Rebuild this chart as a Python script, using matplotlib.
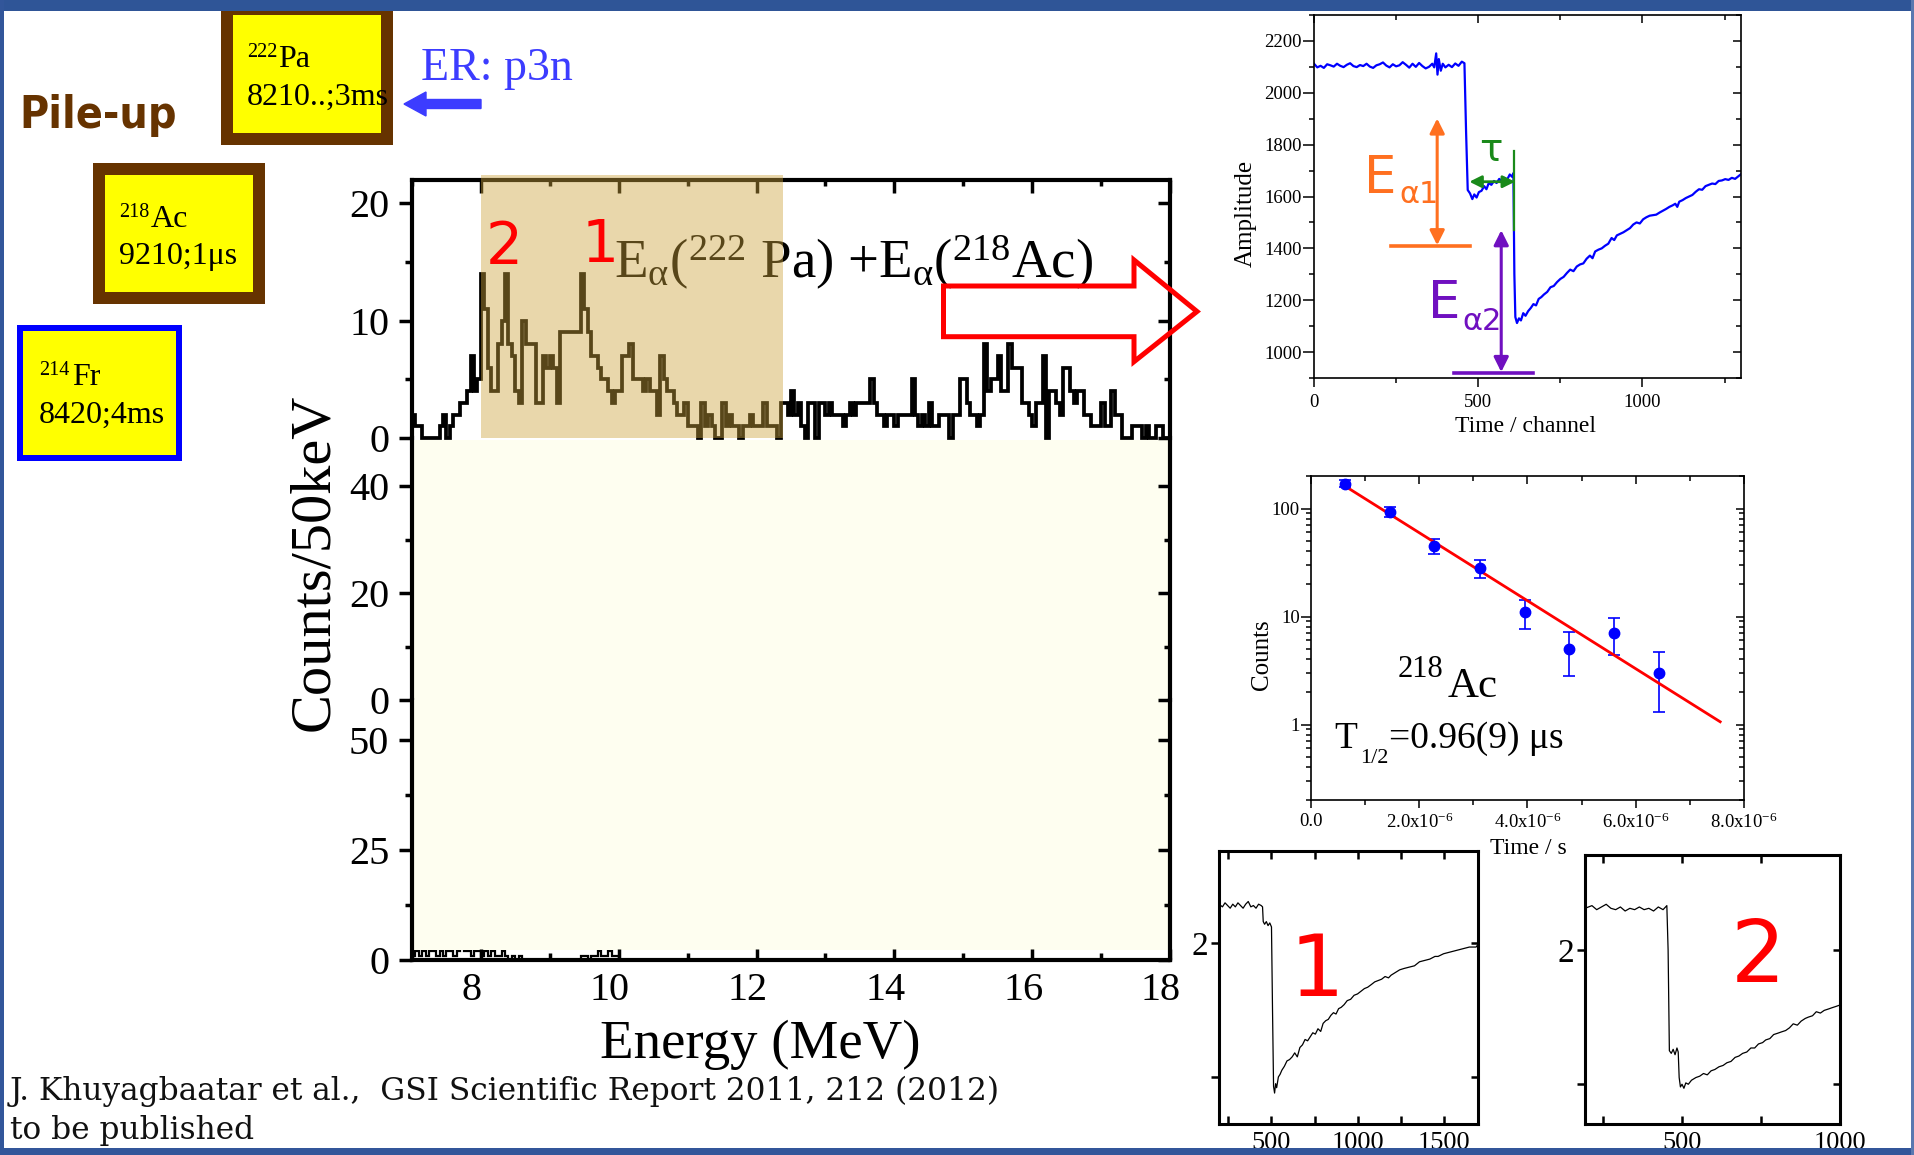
import numpy as np
import matplotlib
matplotlib.use("Agg")
import matplotlib.pyplot as plt
from matplotlib.patches import Rectangle, Polygon, FancyArrow
from matplotlib.transforms import Affine2D, blended_transform_factory, ScaledTranslation
from matplotlib.ticker import (MultipleLocator, FixedLocator, NullFormatter,
                               FuncFormatter, LogLocator, NullLocator)

plt.rcParams['font.family'] = ['Liberation Serif', 'DejaVu Sans']
plt.rcParams['mathtext.fontset'] = 'custom'
plt.rcParams['mathtext.rm'] = 'Liberation Serif'
plt.rcParams['mathtext.it'] = 'Liberation Serif:italic'
plt.rcParams['mathtext.bf'] = 'Liberation Serif:bold'

# ---------------------------------------------------------------- data
energy_start = 7.0          # MeV, first bin edge
bin_width = 0.05            # MeV (50 keV)
counts_top = [2, 1, 1, 0, 0, 0, 0, 0, 1, 2, 0, 1, 2, 2, 3, 3, 4, 7, 4, 5,
              14, 11, 6, 4, 4, 8, 10, 14, 8, 7,
              4, 3, 10, 8, 8, 8, 3, 3, 7, 6,
              7, 6, 3, 9, 9, 9, 9, 9, 9, 14,
              11, 9, 7, 7, 6,
              5, 5, 4, 3, 4, 4, 7, 7, 8, 5,
              5, 5, 4, 5, 4, 4, 2, 7, 5, 4,
              4, 3, 2, 2, 3, 1, 1, 1, 0, 3,
              1, 2, 1, 0, 0, 3, 1, 2, 1, 1,
              0, 1, 1, 2, 1, 1, 1, 3, 1, 1,
              1, 0, 3,
              3, 2, 4, 2, 3, 1, 0, 3, 3, 0,
              3, 3, 2, 3, 2, 2, 2, 1, 2, 3,
              2, 3, 3, 3, 3, 5, 3, 2, 2, 1,
              2, 2, 1, 2, 2, 2, 2, 5, 2, 1,
              2, 1, 3, 1, 1, 2, 2, 2, 0, 2,
              2, 5, 5, 3,
              2, 2, 1, 2, 8, 4, 5, 5, 7, 4,
              4, 8, 6, 6, 6, 3, 3, 2, 1, 3,
              3, 7, 0, 4, 4, 3, 2, 6, 6, 4,
              3, 4, 4, 2, 2, 1, 1, 1, 3, 1,
              1, 4, 2, 2, 0, 0, 0, 1, 1, 1,
              0, 1, 0, 0, 1, 1, 0, 0]
counts_low = [1, 2, 1, 2, 1, 2, 2, 1, 2, 1, 2, 2, 1, 2, 3, 2, 2, 1, 2, 2,
              1, 2, 1, 2, 1, 1, 2, 1, 0, 1, 0, 1, 0, 0, 0, 0, 0, 0, 0, 0,
              0, 0, 0, 0, 0, 0, 0, 0, 0, 1, 1, 0, 1, 1, 2, 1, 1, 2, 1, 1,
              0, 0, 0, 0]
top_ticks_y = [0, 10, 20]
mid_ticks_y = [0, 20, 40]
low_ticks_y = [0, 25, 50]
energy_ticks = [8, 10, 12, 14, 16, 18]
shade_range = (8.0, 12.38)

amp_channel = [0, 10, 20, 30, 40, 50, 60, 70, 80, 90, 100, 110, 120, 130, 140, 150,
               160, 170, 180, 190, 200, 210, 220, 230, 240, 250, 260, 270, 280, 290,
               300, 310, 320, 330, 340, 350, 360, 366, 372, 376, 380, 386, 392, 400,
               410, 420, 430, 440, 450, 458,
               463, 468, 475, 482, 488, 495, 502, 510, 518, 525, 532, 540, 548, 556,
               564, 572, 580, 588, 596, 603, 607,
               610, 613, 618, 624, 630, 637, 644, 652, 660, 668, 676, 684, 692, 700,
               710, 720, 730, 740, 750, 760, 770, 780, 790, 800, 810, 820, 830, 840,
               848, 856, 866, 876, 886, 896, 906, 914, 922, 932, 942, 952, 962, 972,
               982, 992, 1002, 1012, 1022, 1032, 1042, 1052, 1062, 1072, 1082, 1092,
               1100, 1106, 1112, 1122, 1132, 1142, 1152, 1162, 1172, 1182, 1192, 1202,
               1212, 1222, 1232, 1242, 1252, 1262, 1272, 1282, 1292, 1300]
amp_value = [2112, 2098, 2104, 2096, 2110, 2106, 2101, 2112, 2104, 2099, 2108, 2114,
             2103, 2099, 2107, 2103, 2112, 2101, 2096, 2106, 2110, 2117, 2105, 2098,
             2110, 2102, 2106, 2118, 2108, 2097, 2112, 2100, 2115, 2103, 2094, 2100,
             2112, 2098, 2152, 2070, 2130, 2085, 2112, 2098, 2108, 2099, 2113, 2104,
             2120, 2114,
             1850, 1625, 1612, 1590, 1608, 1596, 1617, 1622, 1640, 1628, 1652, 1645,
             1660, 1652, 1668, 1659, 1672, 1665, 1685, 1676, 1690,
             1300, 1135, 1112, 1130, 1122, 1150, 1140, 1158, 1170, 1185, 1180, 1205,
             1212, 1222, 1232, 1250, 1255, 1270, 1282, 1290, 1305, 1318, 1312, 1330,
             1338, 1342, 1360, 1372, 1362, 1388, 1395, 1400, 1410, 1418, 1440, 1432,
             1450, 1456, 1462, 1470, 1478, 1492, 1500, 1496, 1512, 1520, 1526, 1528,
             1530, 1538, 1545, 1552, 1560, 1566, 1572, 1560, 1580, 1586, 1594, 1600,
             1606, 1618, 1628, 1626, 1640, 1645, 1650, 1648, 1660, 1662, 1667, 1664,
             1672, 1668, 1678, 1686]

decay_time = [0.63e-6, 1.46e-6, 2.27e-6, 3.12e-6, 3.95e-6, 4.77e-6, 5.60e-6, 6.43e-6]
decay_counts = [170, 93, 45, 28, 11, 5, 7, 3]
decay_err = [13, 9.6, 6.7, 5.3, 3.3, 2.2, 2.6, 1.7]
fit_time = [0.58e-6, 7.56e-6]
fit_counts = [167, 1.06]

t1_channel = [195, 215, 230, 245, 260, 275, 290, 305, 320, 335, 350, 365, 380, 395, 410,
              425, 440, 448, 452, 460, 470, 480, 490, 500, 506, 512, 518, 524, 530, 540,
              550, 560, 575, 590, 605, 620, 635, 650, 665, 680, 695, 710, 725, 740, 755,
              770, 786, 800, 815, 830, 845, 860, 875, 890, 905, 922, 940, 960, 980, 1000,
              1020, 1040, 1059, 1080, 1100, 1120, 1140, 1160, 1180, 1195, 1220, 1245,
              1270, 1300, 1331, 1360, 1390, 1420, 1450, 1468, 1500, 1530, 1560, 1590,
              1620, 1650, 1689, 1700]
t1_value = [2.29, 2.27, 2.30, 2.28, 2.26, 2.29, 2.27, 2.30, 2.28, 2.26, 2.29, 2.31, 2.27,
            2.28, 2.26, 2.29, 2.28, 2.27, 2.16, 2.14, 2.16, 2.13, 2.15, 2.12, 1.50, 0.93,
            0.88, 0.95, 0.92, 1.00, 1.02, 1.05, 1.08, 1.12, 1.13, 1.15, 1.18, 1.15, 1.22,
            1.24, 1.28, 1.27, 1.30, 1.33, 1.32, 1.36, 1.34, 1.40, 1.42, 1.43, 1.46, 1.48,
            1.47, 1.51, 1.52, 1.54, 1.57, 1.58, 1.61, 1.62, 1.64, 1.66, 1.67, 1.69, 1.71,
            1.72, 1.73, 1.75, 1.74, 1.76, 1.78, 1.80, 1.81, 1.82, 1.83, 1.86, 1.87, 1.88,
            1.90, 1.90, 1.92, 1.93, 1.94, 1.95, 1.96, 1.97, 1.97, 1.99]
t2_channel = [193, 215, 230, 245, 260, 275, 290, 305, 320, 335, 350, 365, 380, 395, 410,
              425, 440, 452, 456, 460, 466, 472, 478, 484, 488, 491, 495, 500, 506, 512,
              520, 530, 544, 556, 568, 580, 592, 604, 617, 630, 642, 655, 668, 680, 692,
              705, 718, 730, 742, 755, 765, 778, 790, 803, 815, 828, 840, 852, 865, 877,
              890, 900, 913, 925, 938, 950, 963, 975, 988, 1000]
t2_value = [2.31, 2.33, 2.30, 2.32, 2.34, 2.31, 2.30, 2.32, 2.29, 2.31, 2.30, 2.32, 2.30,
            2.31, 2.29, 2.32, 2.30, 2.33, 2.00, 1.25, 1.23, 1.26, 1.22, 1.27, 1.24, 1.05,
            0.98, 1.00, 0.97, 1.01, 1.00, 1.03, 1.05, 1.06, 1.08, 1.07, 1.10, 1.11, 1.13,
            1.14, 1.16, 1.17, 1.20, 1.21, 1.23, 1.24, 1.27, 1.27, 1.30, 1.31, 1.33, 1.34,
            1.37, 1.38, 1.39, 1.40, 1.42, 1.45, 1.44, 1.47, 1.49, 1.50, 1.51, 1.54, 1.53,
            1.55, 1.56, 1.57, 1.58, 1.59]

# ---------------------------------------------------------------- figure
W, H = 1915, 1155
fig = plt.figure(figsize=(W / 100, H / 100), dpi=100)
fig.patch.set_facecolor('white')
pix = Affine2D().scale(1.0 / W, -1.0 / H).translate(0, 1) + fig.transFigure


def add_ax(x0, y0, x1, y1):
    return fig.add_axes([x0 / W, 1 - y1 / H, (x1 - x0) / W, (y1 - y0) / H])


def ptext(x, y, s, **kw):
    return fig.text(x, y, s, transform=pix, **kw)


def tstyle(ax, axis, direction, ml, nl, w, **kw):
    ax.tick_params(axis=axis, which='major', direction=direction, length=ml, width=w, **kw)
    ax.tick_params(axis=axis, which='minor', direction=direction, length=nl, width=w)


def twin_right(ax, major, minor, ml, nl, w, scale='linear'):
    t = ax.twinx()
    t.set_yscale(scale)
    t.set_ylim(ax.get_ylim())
    t.yaxis.set_major_locator(major)
    t.yaxis.set_minor_locator(minor)
    t.yaxis.set_major_formatter(NullFormatter())
    t.yaxis.set_minor_formatter(NullFormatter())
    tstyle(t, 'y', 'in', ml, nl, w)
    for s in t.spines.values():
        s.set_visible(False)
    return t


def twin_top(ax, major, minor, ml, nl, w):
    t = ax.twiny()
    t.set_xlim(ax.get_xlim())
    t.xaxis.set_major_locator(major)
    t.xaxis.set_minor_locator(minor)
    t.xaxis.set_major_formatter(NullFormatter())
    t.xaxis.set_minor_formatter(NullFormatter())
    tstyle(t, 'x', 'in', ml, nl, w)
    for s in t.spines.values():
        s.set_visible(False)
    return t


# ---------------------------------------------------------------- main histogram
edges = energy_start + bin_width * np.arange(len(counts_top) + 1)
edges_low = energy_start + bin_width * np.arange(len(counts_low) + 1)
XL, XR = 412, 1170
SW = 3.0
cream = '#fefef0'

ax1 = add_ax(XL, 180, XR, 438)
ax2 = add_ax(XL, 438, XR, 700)
ax3 = add_ax(XL, 700, XR, 960)
for a, yl in [(ax1, 22), (ax2, 49), (ax3, 59)]:
    a.set_xlim(7, 18)
    a.set_ylim(0, yl)
    a.patch.set_visible(False)
    for s in a.spines.values():
        s.set_linewidth(SW)
    a.set_axisbelow(False)

ax1.stairs(counts_top, edges, color='black', lw=2.7, clip_on=False, zorder=2)
ax3.stairs(counts_low, edges_low, color='black', lw=1.6, clip_on=False, zorder=2)

ax2.add_patch(Rectangle((0, 0), 1, 0.992, transform=ax2.transAxes, facecolor=cream,
                        edgecolor='none', zorder=2.2))
ax3.add_patch(Rectangle((0, 0.04), 1, 0.96, transform=ax3.transAxes, facecolor=cream,
                        edgecolor='none', zorder=2.2))

ax1.spines['bottom'].set_visible(False)
ax2.spines['top'].set_visible(False)
ax2.spines['bottom'].set_visible(False)
ax3.spines['top'].set_visible(False)

ax1.yaxis.set_major_locator(FixedLocator(top_ticks_y))
ax1.yaxis.set_minor_locator(FixedLocator([5, 15]))
ax2.yaxis.set_major_locator(FixedLocator(mid_ticks_y))
ax2.yaxis.set_minor_locator(FixedLocator([10, 30]))
ax3.yaxis.set_major_locator(FixedLocator(low_ticks_y))
ax3.yaxis.set_minor_locator(FixedLocator([12.5, 37.5]))
for a, mj, mn in [(ax1, top_ticks_y, [5, 15]), (ax2, mid_ticks_y, [10, 30]),
                  (ax3, low_ticks_y, [12.5, 37.5])]:
    twin_right(a, FixedLocator(mj), FixedLocator(mn), 9, 4.5, 2.5)
    tstyle(a, 'y', 'out', 9.4, 4.7, 2.5, labelsize=29, pad=7)

ax1.xaxis.tick_top()
ax1.xaxis.set_major_locator(FixedLocator(energy_ticks))
ax1.xaxis.set_minor_locator(MultipleLocator(1))
tstyle(ax1, 'x', 'in', 9.5, 4, 2.5, labeltop=False)
ax2.xaxis.set_major_locator(NullLocator())
ax2.xaxis.set_minor_locator(NullLocator())
ax3.xaxis.set_major_locator(FixedLocator(energy_ticks))
ax3.xaxis.set_minor_locator(MultipleLocator(1))
tstyle(ax3, 'x', 'in', 8, 5, 2.5, labelsize=29, pad=9)
shift_left = ScaledTranslation(-9 / 100, 0, fig.dpi_scale_trans)
for lab in ax3.get_xticklabels():
    lab.set_transform(lab.get_transform() + shift_left)

ptext(314, 562, 'Counts/50keV', rotation=90, ha='center', va='center', size=42)
ptext(760, 1045, 'Energy (MeV)', ha='center', va='center', size=39.5)

ax1.text(614, 278, r'E$_{\mathrm{\alpha}}$($^{222}$ Pa) +E$_{\mathrm{\alpha}}$($^{218}$Ac)',
         transform=pix, size=39.5, ha='left', va='baseline', zorder=3)

# tan shading overlay (figure level, above the axes)
shade = Rectangle((shade_range[0], 0), shade_range[1] - shade_range[0], 1 + 5 / 258,
                  transform=blended_transform_factory(ax1.transData, ax1.transAxes),
                  facecolor='#cda33c', alpha=0.43, edgecolor='none', zorder=1)
fig.add_artist(shade)

ptext(504, 247, '2', color='#ff0000', size=42, ha='center', va='center',
      family='DejaVu Sans', zorder=3)
ptext(600, 246, '1', color='#ff0000', size=42, ha='center', va='center',
      family='DejaVu Sans', zorder=3)

arrow_pts = [(943.5, 286), (1134, 286), (1134, 260), (1197, 311.5), (1134, 361.7),
             (1134, 336.7), (943.5, 336.7)]
fig.add_artist(Polygon(arrow_pts, closed=True, fill=False, edgecolor='#ff0000', lw=3.6,
                       joinstyle='miter', transform=pix, zorder=2))

# ---------------------------------------------------------------- boxes / labels left
def box(x0, y0, x1, y1, border, edge):
    fig.add_artist(Rectangle((x0, y0), x1 - x0, y1 - y0, facecolor=edge, edgecolor='none',
                             transform=pix, zorder=1))
    fig.add_artist(Rectangle((x0 + border, y0 + border), x1 - x0 - 2 * border,
                             y1 - y0 - 2 * border, facecolor='#ffff00', edgecolor='none',
                             transform=pix, zorder=1))


box(221, 3, 393, 145, 12, '#663300')
box(93, 163, 265, 304, 12, '#663300')
box(17, 325, 182, 461, 6, '#0000ff')

ptext(247, 57, '222', size=14.5, va='baseline', zorder=2)
ptext(278, 67, 'Pa', size=23, va='baseline', zorder=2)
ptext(247, 105, '8210..;3ms', size=23, va='baseline', zorder=2)
ptext(119, 217, '218', size=14.5, va='baseline', zorder=2)
ptext(151, 227, 'Ac', size=23, va='baseline', zorder=2)
ptext(119, 264, '9210;1\u03bcs', size=23, va='baseline', zorder=2)
ptext(39, 375, '214', size=14.5, va='baseline', zorder=2)
ptext(72, 385, 'Fr', size=23, va='baseline', zorder=2)
ptext(39, 423, '8420;4ms', size=23, va='baseline', zorder=2)

ptext(19, 128, 'Pile-up', color='#663300', size=32, weight='bold', family='DejaVu Sans',
      fontstretch='condensed', va='baseline')
ptext(421, 80, 'ER: p3n', color='#3c3cff', size=33, va='baseline')
fig.add_artist(FancyArrow(481, 104, -77, 0, width=9, head_width=24, head_length=22,
                          length_includes_head=True, color='#3c3cff', transform=pix,
                          zorder=2))

ptext(10, 1100, 'J. Khuyagbaatar et al.,  GSI Scientific Report 2011, 212 (2012)',
      size=22.5, va='baseline', color='#111111', family='DejaVu Serif')
ptext(10, 1139, 'to be published', size=22.5, va='baseline', color='#111111',
      family='DejaVu Serif')

# ---------------------------------------------------------------- amplitude trace
axA = add_ax(1314, 15, 1741, 378)
axA.plot(amp_channel, amp_value, color='#0000ff', lw=1.6)
axA.set_xlim(0, 1300)
axA.set_ylim(900, 2300)
axA.xaxis.set_major_locator(MultipleLocator(500))
axA.xaxis.set_minor_locator(MultipleLocator(250))
axA.yaxis.set_major_locator(MultipleLocator(200))
axA.yaxis.set_minor_locator(MultipleLocator(100))
for s in axA.spines.values():
    s.set_linewidth(1.2)
twin_right(axA, MultipleLocator(200), MultipleLocator(100), 6, 3.5, 1.1)
twin_top(axA, MultipleLocator(500), MultipleLocator(250), 6, 3.5, 1.1)
tstyle(axA, 'y', 'out', 8, 3.5, 1.1, labelsize=13.5, pad=1)
tstyle(axA, 'x', 'out', 6.5, 3.5, 1.1, labelsize=13.5, pad=5)
ptext(1246, 213, 'Amplitude', rotation=90, ha='center', va='center', size=18)
ptext(1526, 427, 'Time / channel', ha='center', va='center', size=17)

orange, green, purple = '#ff7020', '#1a8a1a', '#7010c0'
axA.annotate('', xy=(375, 1412), xytext=(375, 1901),
             arrowprops=dict(arrowstyle='<|-|>', color=orange, lw=2.2, mutation_scale=22,
                             shrinkA=0, shrinkB=0))
axA.plot([233, 475], [1408, 1408], color=orange, lw=2.6)
axA.plot([609, 609], [1470, 1776], color=green, lw=1.6)
axA.annotate('', xy=(473, 1657), xytext=(612, 1657),
             arrowprops=dict(arrowstyle='<|-|>', color=green, lw=2.0, mutation_scale=18,
                             shrinkA=0, shrinkB=0))
axA.annotate('', xy=(570, 923), xytext=(570, 1470),
             arrowprops=dict(arrowstyle='<|-|>', color=purple, lw=2.2, mutation_scale=22,
                             shrinkA=0, shrinkB=0))
axA.plot([427, 667], [919, 919], color=purple, lw=2.6)
ptext(1364, 193, 'E', color=orange, size=37, family='DejaVu Sans', va='baseline')
ptext(1399, 203, '\u03b11', color=orange, size=22, family='DejaVu Sans', va='baseline')
ptext(1428, 318, 'E', color=purple, size=37, family='DejaVu Sans', va='baseline')
ptext(1462, 330, '\u03b12', color=purple, size=22, family='DejaVu Sans', va='baseline')
ptext(1491, 150, '\u03c4', color=green, size=28, family='DejaVu Sans', ha='center',
      va='center')

# ---------------------------------------------------------------- decay curve
axD = add_ax(1311, 476, 1744, 800)
axD.set_yscale('log')
axD.set_xlim(0, 8e-6)
axD.set_ylim(0.2, 200)
axD.errorbar(decay_time, decay_counts, yerr=decay_err, fmt='o', color='#0000ff', ms=7.5,
             elinewidth=1.2, capsize=4, capthick=1.2)
axD.plot(fit_time, fit_counts, color='#ff0000', lw=2.0)
axD.xaxis.set_major_locator(FixedLocator([0, 2e-6, 4e-6, 6e-6, 8e-6]))
axD.xaxis.set_minor_locator(MultipleLocator(1e-6))


def xfmt(v, pos):
    if abs(v) < 1e-12:
        return '0.0'
    return r'%.1fx10$^{\mathregular{-6}}$' % (v * 1e6)


axD.xaxis.set_major_formatter(FuncFormatter(xfmt))
axD.yaxis.set_major_locator(FixedLocator([1, 10, 100]))
axD.yaxis.set_major_formatter(FuncFormatter(lambda v, p: '%g' % v))
axD.yaxis.set_minor_locator(LogLocator(base=10, subs=np.arange(2, 10)))
axD.yaxis.set_minor_formatter(NullFormatter())
for s in axD.spines.values():
    s.set_linewidth(1.2)
twin_right(axD, FixedLocator([1, 10, 100]), LogLocator(base=10, subs=np.arange(2, 10)),
           6, 3.5, 1.1, scale='log')
twin_top(axD, FixedLocator([0, 2e-6, 4e-6, 6e-6, 8e-6]), MultipleLocator(1e-6), 6, 3.5, 1.1)
tstyle(axD, 'y', 'out', 7, 3.5, 1.1, labelsize=13.5, pad=1)
tstyle(axD, 'x', 'out', 6, 3.5, 1.1, labelsize=13.5, pad=3)
ptext(1262, 655, 'Counts', rotation=90, ha='center', va='center', size=18)
ptext(1528, 848, 'Time / s', ha='center', va='center', size=17)
ptext(1398, 677, '218', size=22, va='baseline')
ptext(1448, 697, 'Ac', size=31, va='baseline')
ptext(1334, 748, 'T', size=27, va='baseline')
ptext(1360, 763, '1/2', size=16, va='baseline')
ptext(1389, 748, '=0.96(9) \u03bcs', size=27, va='baseline')

# ---------------------------------------------------------------- small traces
def small(x0, y0, x1, y1, ch, val, xlim, ylim, xmaj, xmin, label, lab_xy):
    a = add_ax(x0, y0, x1, y1)
    a.plot(ch, val, color='black', lw=0.9)
    a.set_xlim(*xlim)
    a.set_ylim(*ylim)
    a.xaxis.set_major_locator(MultipleLocator(xmaj))
    a.xaxis.set_minor_locator(MultipleLocator(xmin))
    a.yaxis.set_major_locator(FixedLocator([1, 2]))
    a.yaxis.set_major_formatter(FuncFormatter(lambda v, p: '2' if abs(v - 2) < 1e-6 else ''))
    a.yaxis.set_minor_locator(NullLocator())
    for s in a.spines.values():
        s.set_linewidth(2.2)
    twin_right(a, FixedLocator([1, 2]), NullLocator(), 5, 3, 1.8)
    tstyle(a, 'y', 'out', 6, 3, 1.8, labelsize=24, pad=2)
    a.tick_params(axis='x', which='both', top=True, bottom=True)
    tstyle(a, 'x', 'in', 5.5, 5.5, 1.8, labelsize=19, pad=6)
    ptext(lab_xy[0], lab_xy[1], label, color='#ff0000', size=62, family='DejaVu Sans',
          ha='center', va='center')
    return a


small(1219, 851, 1478, 1124, t1_channel, t1_value, (195, 1700), (0.649, 2.687), 500, 250,
      '1', (1317, 972))
small(1585, 855, 1840, 1124, t2_channel, t2_value, (193, 1000), (0.704, 2.707), 500, 250,
      '2', (1758, 958))

# ---------------------------------------------------------------- slide frame
frame = '#32569a'
fig.add_artist(Rectangle((0, 0), W, 11, transform=pix, facecolor='#2f5597',
                         edgecolor='none', zorder=10))
fig.add_artist(Rectangle((0, 1148), W, 7, transform=pix, facecolor=frame,
                         edgecolor='none', zorder=10))
fig.add_artist(Rectangle((0, 0), 4, H, transform=pix, facecolor=frame,
                         edgecolor='none', zorder=10))
fig.add_artist(Rectangle((1911, 0), 4, H, transform=pix, facecolor='#5a78b0',
                         edgecolor='none', zorder=10))

fig.savefig('out.png', dpi=100, facecolor='white')
